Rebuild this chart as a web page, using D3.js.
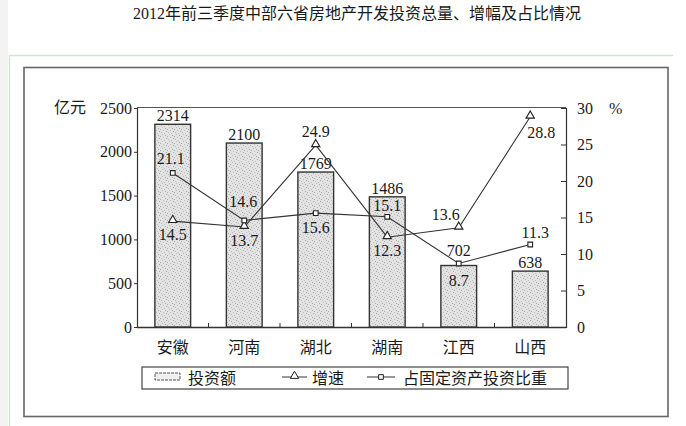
<!DOCTYPE html>
<html><head><meta charset="utf-8">
<script src="https://cdn.jsdelivr.net/npm/d3@7"></script>
<style>
html,body{margin:0;padding:0;background:#fff;}
svg{display:block;}
text{font-family:"Liberation Serif","Times New Roman","Noto Sans CJK SC",serif;fill:#1a1a1a;}
</style></head>
<body>
<svg id="c" width="686" height="426"></svg>
<script>
const title = "2012年前三季度中部六省房地产开发投资总量、增幅及占比情况";
const categories = ["安徽","河南","湖北","湖南","江西","山西"];
const investment = [2314, 2100, 1769, 1486, 702, 638];
const growth = [14.5, 13.7, 24.9, 12.3, 13.6, 28.8];
const share = [21.1, 14.6, 15.6, 15.1, 8.7, 11.3];
const leftTicks = [0, 500, 1000, 1500, 2000, 2500];
const rightTicks = [0, 5, 10, 15, 20, 25, 30];
const legendLabels = ["投资额", "增速", "占固定资产投资比重"];
const leftUnit = "亿元", rightUnit = "%";

const svg = d3.select("#c");
const ink = "#222";

// page decoration
svg.append("rect").attr("x",0).attr("y",0).attr("width",8).attr("height",426).attr("fill","#f3f3f3");
svg.append("line").attr("x1",9.5).attr("x2",9.5).attr("y1",55).attr("y2",426).attr("stroke","#cfe7cf").attr("stroke-width",1.5);
svg.append("line").attr("x1",9).attr("x2",673).attr("y1",55.5).attr("y2",55.5).attr("stroke","#cfe7cf").attr("stroke-width",1.5);

svg.append("text").attr("x",357).attr("y",19).attr("text-anchor","middle")
  .style("font-size","16px").text(title);

// outer frame
svg.append("rect").attr("x",24).attr("y",67.5).attr("width",644).attr("height",349)
  .attr("fill","none").attr("stroke","#666").attr("stroke-width",1.6);

// pattern for bars
const defs = svg.append("defs");
const pat = defs.append("pattern").attr("id","stip").attr("patternUnits","userSpaceOnUse")
  .attr("width",7).attr("height",7);
pat.append("rect").attr("width",7).attr("height",7).attr("fill","#e3e3e3");
[[1,1],[4,2],[2,4],[5,5],[0,6],[6,3],[3,0]].forEach(([a,b],i)=>{
  pat.append("rect").attr("x",a).attr("y",b).attr("width",1).attr("height",1)
    .attr("fill", i%2? "#a8a8a8":"#bdbdbd");
});

const L = 137, R = 566, T = 108, B = 327;
const x = d3.scaleBand().domain(categories).range([L, R]).paddingInner(0.5).paddingOuter(0.25);
const yL = d3.scaleLinear().domain([0, 2500]).range([B, T]);
const yR = d3.scaleLinear().domain([0, 30]).range([B, T]);
const cx = c => x(c) + x.bandwidth()/2;

// plot frame top
svg.append("line").attr("x1",L).attr("x2",R).attr("y1",T-0.5).attr("y2",T-0.5).attr("stroke","#555").attr("stroke-width",1);

// axes
const fs = "16px";
const gL = svg.append("g").attr("transform",`translate(${L},0)`)
  .call(d3.axisLeft(yL).tickValues(leftTicks).tickSize(3).tickPadding(2).tickFormat(d3.format("d")));
const gR = svg.append("g").attr("transform",`translate(${R},0)`)
  .call(d3.axisRight(yR).tickValues(rightTicks).tickSize(-5).tickPadding(11).tickFormat(d3.format("d")));
[gL,gR].forEach(g=>{
  g.select(".domain").attr("stroke","#333").attr("stroke-width",1.2);
  g.selectAll(".tick line").attr("stroke","#333");
  g.selectAll(".tick text").style("font-size",fs).attr("fill",ink).attr("font-family",null);
});
gR.selectAll(".tick text").attr("text-anchor","start");

// bottom axis line and band separator ticks
svg.append("line").attr("x1",L).attr("x2",R).attr("y1",B+0.5).attr("y2",B+0.5).attr("stroke","#333").attr("stroke-width",1.3);
categories.slice(1).forEach(c=>{
  const bx = x(c) - x.step()*x.paddingInner()/2 - 0.0;
  svg.append("line").attr("x1",bx).attr("x2",bx).attr("y1",B).attr("y2",B-4).attr("stroke","#333");
});

// bars
svg.append("g").selectAll("rect").data(investment).join("rect")
  .attr("x",(d,i)=>x(categories[i])).attr("width",x.bandwidth())
  .attr("y",d=>yL(d)).attr("height",d=>B-yL(d))
  .attr("fill","url(#stip)").attr("stroke","#333").attr("stroke-width",1.4);

// bar labels
const barLabelGap = [3,3,3,3,10,3];
svg.append("g").selectAll("text").data(investment).join("text")
  .attr("x",(d,i)=>cx(categories[i])).attr("y",(d,i)=>yL(d)-barLabelGap[i])
  .attr("text-anchor","middle").style("font-size",fs).text(d=>d);

// category labels
svg.append("g").selectAll("text").data(categories).join("text")
  .attr("x",d=>cx(d)).attr("y",353).attr("text-anchor","middle").style("font-size",fs).text(d=>d);

// lines
const lineGen = d3.line().x((d,i)=>cx(categories[i])).y(d=>yR(d));
svg.append("path").datum(share).attr("d",lineGen).attr("fill","none").attr("stroke","#333").attr("stroke-width",1.1);
svg.append("path").datum(growth).attr("d",lineGen).attr("fill","none").attr("stroke","#333").attr("stroke-width",1.1);

const tri = d3.symbol().type(d3.symbolTriangle).size(30);
const sq = d3.symbol().type(d3.symbolSquare).size(22);
svg.append("g").selectAll("path").data(growth).join("path")
  .attr("d",tri).attr("transform",(d,i)=>`translate(${cx(categories[i])},${yR(d)-1})`)
  .attr("fill","#fff").attr("stroke","#222").attr("stroke-width",1.1);
svg.append("g").selectAll("path").data(share).join("path")
  .attr("d",sq).attr("transform",(d,i)=>`translate(${cx(categories[i])},${yR(d)})`)
  .attr("fill","#fff").attr("stroke","#222").attr("stroke-width",1.1);

// line value labels (offsets of label centre from marker)
const growthOff = [[0,13],[0,14],[0,-14],[0,13],[-13,-13],[11,16]];
const shareOff = [[-2,-14],[-1,-19],[0,14],[0,-11],[0,17],[5,-12]];
svg.append("g").selectAll("text").data(growth).join("text")
  .attr("x",(d,i)=>cx(categories[i])+growthOff[i][0]).attr("y",(d,i)=>yR(d)+growthOff[i][1]+5.5)
  .attr("text-anchor","middle").style("font-size",fs).text(d=>d.toFixed(1));
svg.append("g").selectAll("text").data(share).join("text")
  .attr("x",(d,i)=>cx(categories[i])+shareOff[i][0]).attr("y",(d,i)=>yR(d)+shareOff[i][1]+5.5)
  .attr("text-anchor","middle").style("font-size",fs).text(d=>d.toFixed(1));

// units
svg.append("text").attr("x",54).attr("y",113).style("font-size",fs).text(leftUnit);
svg.append("text").attr("x",609).attr("y",114).style("font-size",fs).text(rightUnit);

// legend
const lg = svg.append("g");
lg.append("rect").attr("x",142).attr("y",367).attr("width",426).attr("height",22)
  .attr("fill","#fff").attr("stroke","#444").attr("stroke-width",1.2);
lg.append("rect").attr("x",155).attr("y",373).attr("width",25).attr("height",7)
  .attr("fill","#f0f0f0").attr("stroke","#555").attr("stroke-width",1).attr("stroke-dasharray","3,1");
lg.append("text").attr("x",188).attr("y",384).style("font-size",fs).text(legendLabels[0]);
lg.append("line").attr("x1",282).attr("x2",307).attr("y1",377).attr("y2",377).attr("stroke","#333");
lg.append("path").attr("d",tri).attr("transform","translate(294.5,376)").attr("fill","#fff").attr("stroke","#222");
lg.append("text").attr("x",312).attr("y",384).style("font-size",fs).text(legendLabels[1]);
lg.append("line").attr("x1",367).attr("x2",395).attr("y1",377).attr("y2",377).attr("stroke","#333");
lg.append("path").attr("d",sq).attr("transform","translate(381,377)").attr("fill","#fff").attr("stroke","#222");
lg.append("text").attr("x",403).attr("y",384).style("font-size",fs).text(legendLabels[2]);
</script>
</body></html>
